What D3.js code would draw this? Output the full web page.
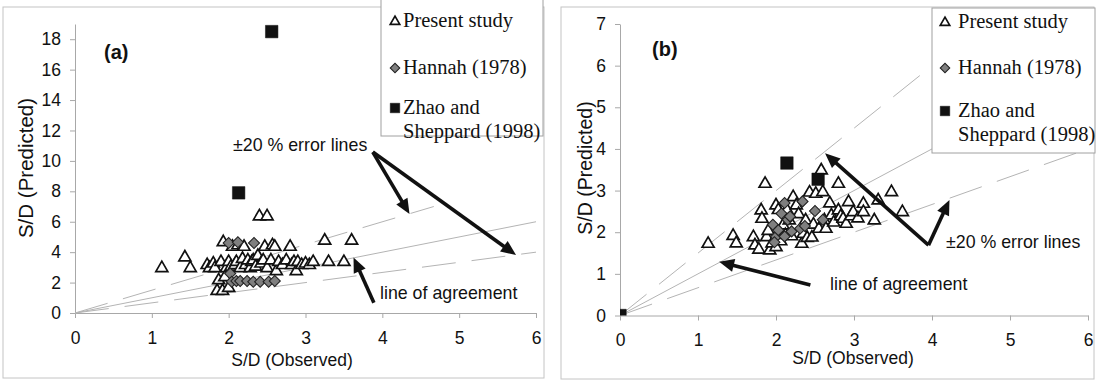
<!DOCTYPE html>
<html>
<head>
<meta charset="utf-8">
<script src="https://cdn.jsdelivr.net/npm/d3@7"></script>
<style>
  body { margin: 0; background: #fff; }
  svg { display: block; }
  .tick text { font-family: "Liberation Sans", Arial, sans-serif; font-size: 17.5px; fill: #111; }
  .domain, .tick line { stroke: #a8a8a8; }
</style>
</head>
<body>
<svg id="chart" width="1096" height="381"></svg>
<script>
// ---- data ----
const xTicks = [0, 1, 2, 3, 4, 5, 6];
const yTicksA = [0, 2, 4, 6, 8, 10, 12, 14, 16, 18];
const yTicksB = [0, 1, 2, 3, 4, 5, 6, 7];

const legendLabels = ["Present study", "Hannah (1978)", "Zhao and", "Sheppard (1998)"];

// panel (a): [observed, predicted]
const presentA = [
  [1.13, 3.0], [1.43, 3.7], [1.5, 3.0], [1.72, 3.2], [1.75, 3.0], [1.8, 3.3], [1.82, 3.0],
  [1.85, 1.5], [1.87, 2.2], [1.9, 3.4], [1.92, 1.5], [1.93, 4.7], [1.95, 2.4], [1.97, 3.0],
  [2.0, 3.4], [2.0, 1.7], [2.03, 3.1], [2.05, 4.4], [2.08, 3.2], [2.1, 3.4], [2.12, 4.5],
  [2.15, 3.0], [2.18, 3.6], [2.2, 4.4], [2.22, 3.2], [2.25, 3.5], [2.28, 3.0], [2.3, 3.4],
  [2.32, 3.5], [2.35, 3.1], [2.38, 3.8], [2.4, 6.4], [2.42, 3.3], [2.45, 3.5], [2.47, 4.4],
  [2.5, 6.4], [2.5, 3.0], [2.55, 3.5], [2.57, 4.5], [2.6, 4.4], [2.62, 2.8], [2.65, 3.4],
  [2.7, 3.2], [2.75, 3.5], [2.8, 4.4], [2.82, 3.2], [2.85, 3.4], [2.88, 2.8], [2.9, 3.4],
  [2.95, 3.2], [3.0, 3.3], [3.05, 3.2], [3.1, 3.4], [3.25, 4.8], [3.3, 3.4], [3.5, 3.4],
  [3.6, 4.8]
];
const hannahA = [
  [2.0, 4.6], [2.12, 4.65], [2.33, 4.6], [2.02, 2.6], [2.04, 2.05], [2.1, 2.1], [2.15, 2.1],
  [2.24, 2.1], [2.32, 2.05], [2.41, 2.05], [2.52, 2.05], [2.6, 2.1]
];
const zhaoA = [[2.13, 7.9], [2.56, 18.5]];

// panel (b)
const presentB = [
  [1.13, 1.74], [1.45, 1.93], [1.49, 1.75], [1.71, 1.9], [1.73, 1.7], [1.78, 1.6], [1.81, 2.54],
  [1.82, 2.34], [1.86, 3.18], [1.88, 1.9], [1.9, 2.05], [1.92, 1.58], [1.95, 1.75], [2.0, 2.66],
  [2.0, 1.66], [2.03, 2.55], [2.06, 1.8], [2.09, 2.18], [2.12, 1.95], [2.14, 2.55], [2.17, 2.3],
  [2.2, 1.92], [2.22, 2.86], [2.26, 2.66], [2.29, 2.45], [2.33, 1.74], [2.35, 1.98], [2.38, 2.3],
  [2.4, 1.88], [2.43, 2.97], [2.46, 1.89], [2.48, 2.2], [2.51, 2.94], [2.55, 2.1], [2.58, 3.5],
  [2.6, 2.98], [2.62, 2.3], [2.64, 2.1], [2.69, 2.71], [2.71, 2.42], [2.74, 2.25], [2.8, 3.18],
  [2.8, 2.54], [2.83, 2.4], [2.86, 2.34], [2.9, 2.22], [2.93, 2.74], [2.96, 2.4], [2.99, 2.5],
  [3.05, 2.35], [3.12, 2.7], [3.12, 2.5], [3.26, 2.3], [3.31, 2.78], [3.48, 2.98], [3.62, 2.5]
];
const hannahB = [
  [1.96, 2.18], [2.0, 1.89], [1.98, 1.76], [2.03, 2.05], [2.07, 2.45], [2.11, 2.7], [2.11, 1.9],
  [2.15, 2.3], [2.18, 2.38], [2.2, 2.02], [2.31, 2.09], [2.34, 2.74], [2.37, 2.15], [2.5, 2.51],
  [2.6, 2.3]
];
const zhaoB = [[0, 0], [2.14, 3.66], [2.54, 3.27]];

// reference lines: agreement and the two dashed error lines
const agreementLine = [[0, 0], [6, 6]];
const upperLine = [[0, 0], [4.67, 7]];
const lowerLine = [[0, 0], [6, 4]];

// annotation arrows, in data units: [from, to]
const errArrowsA = [[[3.876, 10.58], [4.354, 6.51]], [[3.876, 10.58], [5.74, 3.81]]];
const agreeArrowA = [[3.89, 0.68], [3.625, 3.65]];
const errArrowsB = [[[3.955, 1.69], [2.629, 3.895]], [[3.955, 1.69], [4.224, 2.774]]];
const agreeArrowB = [[2.441, 0.732], [1.271, 1.292]];

const svg = d3.select("#chart");
const sansFont = '"Liberation Sans", Arial, sans-serif';
const serifFont = '"Liberation Serif", "Times New Roman", serif';

function marker(g, type, cx, cy, s) {
  if (type === "tri") {
    g.append("path")
      .attr("d", d3.symbol(d3.symbolTriangle, s * s * Math.sqrt(3) / 4)())
      .attr("transform", `translate(${cx},${cy + s * 0.06})`)
      .attr("fill", "#fff").attr("stroke", "#111").attr("stroke-width", 1.7);
  } else if (type === "dia") {
    const side = s / Math.SQRT2;
    g.append("path")
      .attr("d", d3.symbol(d3.symbolSquare, side * side)())
      .attr("transform", `translate(${cx},${cy}) rotate(45)`)
      .attr("fill", "#7f7f7f").attr("stroke", "#222").attr("stroke-width", 1.1);
  } else {
    g.append("path")
      .attr("d", d3.symbol(d3.symbolSquare, s * s)())
      .attr("transform", `translate(${cx},${cy})`)
      .attr("fill", "#111").attr("stroke", "#111").attr("stroke-width", 0.5);
  }
}

function arrow(g, p0, p1) {
  const L = 15, W = 6.5;
  const dx = p1[0] - p0[0], dy = p1[1] - p0[1];
  const len = Math.hypot(dx, dy);
  const ux = dx / len, uy = dy / len, nx = -uy, ny = ux;
  g.append("line")
    .attr("x1", p0[0]).attr("y1", p0[1])
    .attr("x2", p1[0] - (L - 2) * ux).attr("y2", p1[1] - (L - 2) * uy)
    .attr("stroke", "#111").attr("stroke-width", 3.6);
  const bx = p1[0] - L * ux, by = p1[1] - L * uy;
  g.append("path")
    .attr("d", `M${p1[0]},${p1[1]}L${bx + W * nx},${by + W * ny}L${bx - W * nx},${by - W * ny}Z`)
    .attr("fill", "#111");
}

function drawPanel(o) {
  const g = svg.append("g");

  // panel frame
  g.append("rect")
    .attr("x", o.frame[0]).attr("y", o.frame[1])
    .attr("width", o.frame[2]).attr("height", o.frame[3])
    .attr("fill", "#fff").attr("stroke", "#c4c4c4").attr("stroke-width", 1);

  const x = d3.scaleLinear().domain([0, 6]).range(o.xRange);
  const y = d3.scaleLinear().domain([0, o.yMax]).range(o.yRange);

  g.append("g")
    .attr("transform", `translate(0,${o.yRange[0]})`)
    .call(d3.axisBottom(x).tickValues(xTicks).tickFormat(d3.format("d"))
      .tickSize(5).tickSizeOuter(0).tickPadding(o.xPad));
  g.append("g")
    .attr("transform", `translate(${o.xRange[0]},0)`)
    .call(d3.axisLeft(y).tickValues(o.yTicks).tickFormat(d3.format("d"))
      .tickSize(5).tickSizeOuter(0).tickPadding(9));

  // reference lines
  const line = d3.line().x(d => x(d[0])).y(d => y(d[1]));
  g.append("path").attr("d", line(agreementLine))
    .attr("fill", "none").attr("stroke", "#b4b4b4").attr("stroke-width", 1);
  [upperLine, lowerLine].forEach(l => {
    g.append("path").attr("d", line(l))
      .attr("fill", "none").attr("stroke", "#b4b4b4").attr("stroke-width", 1)
      .attr("stroke-dasharray", "34,16");
  });

  // series
  const clipId = "clip" + o.id;
  g.append("clipPath").attr("id", clipId).append("rect")
    .attr("x", o.xRange[0]).attr("y", o.yRange[1] - 20)
    .attr("width", o.xRange[1] - o.xRange[0] + 10)
    .attr("height", o.yRange[0] - o.yRange[1] + 20);
  const marks = g.append("g").attr("clip-path", `url(#${clipId})`);
  o.present.forEach(d => marker(marks, "tri", x(d[0]), y(d[1]), 12));
  o.hannah.forEach(d => marker(marks, "dia", x(d[0]), y(d[1]), 11));
  o.zhao.forEach(d => marker(marks, "sq", x(d[0]), y(d[1]), 12.5));

  // axis titles
  g.append("text")
    .attr("x", o.xTitle[0]).attr("y", o.xTitle[1])
    .attr("text-anchor", "middle")
    .style("font-family", sansFont).style("font-size", "17.5px").attr("fill", "#111")
    .text("S/D (Observed)");
  g.append("text")
    .attr("transform", `translate(${o.yTitle[0]},${o.yTitle[1]}) rotate(-90)`)
    .attr("text-anchor", "middle")
    .style("font-family", sansFont).style("font-size", o.yTitleSize).attr("fill", "#111")
    .text("S/D (Predicted)");

  // panel tag
  g.append("text")
    .attr("x", o.tag[0]).attr("y", o.tag[1])
    .style("font-family", sansFont).style("font-size", "20px").style("font-weight", "bold")
    .attr("fill", "#111")
    .text(o.id === "A" ? "(a)" : "(b)");

  // annotations
  const ann = (p) => [x(p[0]), y(p[1])];
  o.errArrows.forEach(a => arrow(g, ann(a[0]), ann(a[1])));
  arrow(g, ann(o.agreeArrow[0]), ann(o.agreeArrow[1]));
  g.append("text")
    .attr("x", o.errText[0]).attr("y", o.errText[1])
    .style("font-family", sansFont).style("font-size", "17.8px").attr("fill", "#111")
    .text("\u00b120 % error lines");
  g.append("text")
    .attr("x", o.agreeText[0]).attr("y", o.agreeText[1])
    .style("font-family", sansFont).style("font-size", "17.8px").attr("fill", "#111")
    .text("line of agreement");

  // legend
  const lg = g.append("g");
  lg.append("rect")
    .attr("x", o.legend[0]).attr("y", o.legend[1])
    .attr("width", o.legend[2]).attr("height", o.legend[3])
    .attr("fill", "#fff").attr("stroke", "#a0a0a0").attr("stroke-width", 1);
  const types = ["tri", "dia", "sq", null];
  legendLabels.forEach((t, i) => {
    const by = o.legendRows[i];
    if (types[i]) marker(lg, types[i], o.legendMarkX, by - 6, 9.5);
    lg.append("text")
      .attr("x", o.legendTextX).attr("y", by)
      .style("font-family", serifFont).style("font-size", "20.5px").attr("fill", "#111")
      .text(t);
  });
}

drawPanel({
  id: "A",
  frame: [3, 7, 541, 371],
  xRange: [75, 536], yRange: [313, 24], yMax: 19, yTicks: yTicksA, xPad: 14,
  present: presentA, hannah: hannahA, zhao: zhaoA,
  xTitle: [292, 366], yTitle: [33, 168], yTitleSize: "20.5px", tag: [104, 59],
  errArrows: errArrowsA, agreeArrow: agreeArrowA,
  errText: [233, 151], agreeText: [380, 299],
  legend: [381, -1, 162, 137], legendRows: [27, 74, 114, 138],
  legendMarkX: 395, legendTextX: 403
});

drawPanel({
  id: "B",
  frame: [561, 7, 533, 372],
  xRange: [620, 1088], yRange: [315.5, 24], yMax: 7, yTicks: yTicksB, xPad: 13,
  present: presentB, hannah: hannahB, zhao: zhaoB,
  xTitle: [853, 364], yTitle: [592, 168], yTitleSize: "19.5px", tag: [652, 56],
  errArrows: errArrowsB, agreeArrow: agreeArrowB,
  errText: [946, 248], agreeText: [830, 290],
  legend: [932, 8, 163, 145], legendRows: [28, 74, 117, 141],
  legendMarkX: 945, legendTextX: 958
});
</script>
</body>
</html>
